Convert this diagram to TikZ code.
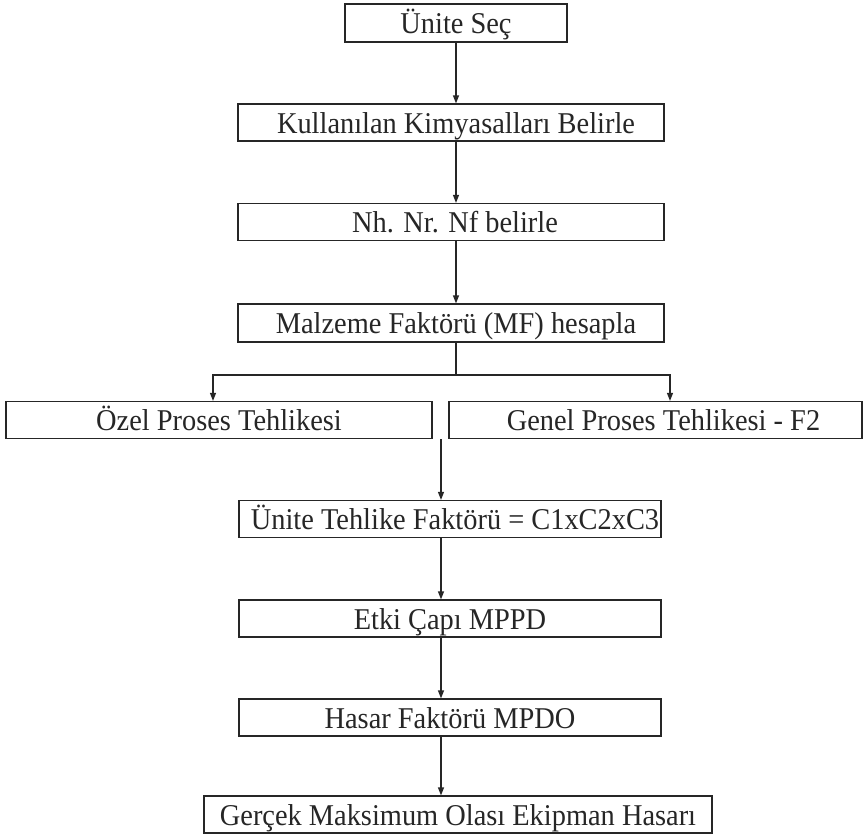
\documentclass[tikz,border=0pt]{standalone}
\usepackage{fontspec}
\setmainfont{Liberation Serif}[FakeStretch=0.94]
\usetikzlibrary{arrows.meta}
\definecolor{ink}{HTML}{262626}
\begin{document}
\begin{tikzpicture}[x=1pt,y=-1pt,
  box/.style={draw=ink, line width=1.2pt, inner sep=0pt, text=ink,
    minimum height=37pt, text height=23pt, text depth=2pt,
    font=\fontsize{30.2}{32}\selectfont},
  link/.style={draw=ink, line width=1.2pt},
  arr/.style={link, -{Triangle[length=8pt,width=6pt]}}]
\useasboundingbox (0,0) rectangle (864,836);

% process steps
\node[box, minimum width=222pt, minimum height=38pt] (b1) at (456,23) {Ünite Seç};
\node[box, minimum width=426pt] (b2) at (451,122.5) {\hspace*{10pt}Kullanılan Kimyasalları Belirle};
\node[box, minimum width=426pt] (b3) at (451,222) {\hspace*{8pt}Nh. Nr. Nf belirle};
\node[box, minimum width=426pt, minimum height=38pt] (b4) at (451,323) {\hspace*{10pt}Malzeme Faktörü (MF) hesapla};
\node[box, minimum width=426pt] (b5) at (219,420) {Özel Proses Tehlikesi};
\node[box, minimum width=413pt] (b6) at (655.5,420) {\hspace*{16pt}Genel Proses Tehlikesi - F2};
\node[box, minimum width=422pt] (b7) at (450,519) {\hspace*{10pt}Ünite Tehlike Faktörü = C1xC2xC3};
\node[box, minimum width=422pt] (b8) at (450,618.5) {Etki Çapı MPPD};
\node[box, minimum width=422pt] (b9) at (450,717.5) {Hasar Faktörü MPDO};
\node[box, minimum width=508pt] (b10) at (458,814.5) {Gerçek Maksimum Olası Ekipman Hasarı};

% branch points
\coordinate (j) at (456,375);
\coordinate (jl) at (213,375);
\coordinate (jr) at (670,375);
\coordinate (m) at (441,439);

% upper chain
\draw[arr] (b1.south) -- (b1.south |- b2.north);
\draw[arr] (b2.south -| b1.south) -- (b3.north -| b1.south);
\draw[arr] (b3.south -| b1.south) -- (b4.north -| b1.south);
\draw[link] (b4.south -| b1.south) -- (j);
\draw[arr] (j) -- (jl) -- (jl |- b5.north);
\draw[arr] (j) -- (jr) -- (jr |- b6.north);

% lower chain
\draw[arr] (m) -- (m |- b7.north);
\draw[arr] (b7.south -| m) -- (b8.north -| m);
\draw[arr] (b8.south -| m) -- (b9.north -| m);
\draw[arr] (b9.south -| m) -- (b10.north -| m);
\end{tikzpicture}
\end{document}
